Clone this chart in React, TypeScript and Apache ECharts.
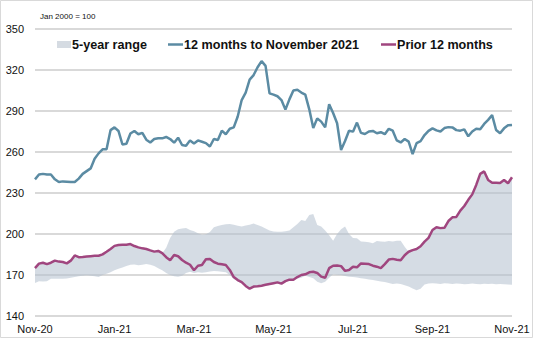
import React, { useEffect, useRef } from "react";
import * as echarts from "echarts";

const xTicks = ["Nov-20", "Jan-21", "Mar-21", "May-21", "Jul-21", "Sep-21", "Nov-21"];

const current12m = [
  240, 243.5, 244, 243.5, 243.5, 240, 238, 238.5, 238.3, 238,
  238, 240.5, 244, 246, 248, 255, 259, 262, 262, 276,
  278, 275.4, 265.5, 266, 273.5, 275.4, 273, 274, 269, 267,
  269.5, 270, 270, 271, 269.5, 266.8, 270.5, 265.1, 264.5, 268.5,
  266.3, 268.5, 267.5, 266.5, 264, 269.5, 268.8, 275.6, 273, 277,
  278, 286, 298, 303.4, 313, 316.3, 322, 326.5, 323, 302.9,
  302, 300.8, 298, 291, 298.5, 305, 305.5, 303.5, 302, 291.2,
  277.5, 284.6, 282.2, 278, 295, 288.5, 281, 261.5, 268, 275.6,
  274.9, 281.5, 274, 273.2, 275, 275.4, 273.7, 274.5, 273, 277,
  275.6, 268.5, 267, 269.5, 267.6, 258.5, 266.5, 268, 272.4, 275.5,
  277.3, 275.8, 275, 277.5, 278.2, 278, 276, 275.6, 276.6, 271.5,
  275, 277, 276.6, 280.5, 283.5, 287, 276.1, 273.7, 277.3, 279.5,
  279.8
];

const prior12m = [
  175, 178.3, 179, 178, 179, 180.5, 179.8, 179.5, 178.5, 180.5,
  184.3, 183, 183.1, 183.5, 183.8, 184, 184.1, 185.1, 187, 189,
  191.3, 192, 192.1, 192.2, 192.6, 191.2, 190.2, 189.5, 189, 188,
  187.1, 187.6, 186, 183, 180.8, 184.6, 183.7, 181, 179, 177.5,
  173.5, 176.8, 177.3, 181.5, 181.7, 179.5, 178.3, 177.8, 177.3, 173.7,
  168.5, 166.3, 164.8, 162, 160, 161.5, 161.7, 162.2, 162.8, 163.4,
  164, 164.6, 163.7, 165.5, 166.6, 166.5, 168.5, 170, 170.5, 172,
  172.4, 171.5, 168.8, 168, 175, 176.8, 177, 176.5, 173, 173.7,
  176.1, 175.6, 178.5, 178.3, 178, 176.8, 176.1, 175, 178, 181.3,
  181.8, 181.2, 180.8, 184.5, 187, 188.2, 189, 191, 194.4, 197.2,
  202.9, 205, 204.3, 204.5, 209.5, 212.2, 212.5, 217.1, 220.5, 225,
  229, 235.9, 244, 245.8, 239.5, 237.5, 237.5, 237.3, 239.5, 237.1,
  241.5
];

const rangeLow = [
  164.2, 165.5, 165.2, 165.5, 167.3, 167.3, 167.2, 167.3, 167.5, 168,
  168.5, 169, 169.5, 169.8, 169.5, 169, 168.6, 170, 171, 172,
  173.5, 174.5, 175.5, 176.5, 177.5, 177.6, 177.2, 177.5, 178, 177.5,
  176.5, 175, 173.5, 171.5, 170, 169, 168.8, 169.5, 171.5, 172.4,
  171.5, 172, 171.7, 172, 172.5, 173, 172.8, 172.4, 172, 170,
  167, 165.5, 164, 161.8, 160, 161, 161.2, 161.8, 162.3, 162.7,
  163.4, 164, 163.5, 165, 166.3, 167, 167.5, 168, 169.5, 168.5,
  167.6, 165, 163.9, 165, 168, 170.5, 170.2, 170, 169.2, 168.8,
  168.6, 168.2, 167.7, 167.2, 166.7, 166.3, 165.8, 165.3, 164.8, 164.2,
  163.5, 163.8, 163.5, 162.5, 161.5, 160.2, 158.8, 160, 163, 163.8,
  164, 163.8, 163.5, 164, 163.7, 163.5, 163.8, 163.6, 163.3, 163.5,
  163.8, 163.4, 163.2, 163.6, 163.4, 163.6, 163.3, 163.5, 163.2, 163,
  162.8
];

const rangeHigh = [
  175, 178.3, 179, 178, 179, 180.5, 179.8, 179.5, 178.5, 180.5,
  184.3, 183, 183.1, 183.5, 183.8, 184, 184.1, 185.1, 187, 189,
  191.3, 192, 192.1, 192.2, 192.6, 191.2, 190.2, 189.5, 189, 188,
  187.1, 187.6, 186, 190, 197, 201.7, 203.5, 204.1, 204.3, 203,
  202, 200.5, 199.5, 199.8, 201.5, 205, 205.8, 206.6, 207.2, 207.3,
  206.8, 206, 205.4, 206.2, 206.8, 207.6, 206.5, 205.4, 204, 202.5,
  201.8, 201.7, 201.7, 202, 202.5, 205, 207.3, 210.2, 209.5, 213.9,
  214.6, 206.6, 205.4, 202.5, 199, 195, 200, 203.5, 205.4, 200,
  197, 196.8, 194.5, 194.4, 194, 193.3, 194.8, 194.5, 194.4, 194.8,
  194.6, 195, 195.1, 190.7, 187, 188.2, 189, 191, 194.4, 197.2,
  202.9, 205, 204.3, 204.5, 209.5, 212.2, 212.5, 217.1, 220.5, 225,
  229, 235.9, 244, 245.8, 239.5, 237.5, 237.5, 237.3, 239.5, 237.1,
  241.5
];

const BLUE = "#5b8ba3";
const PINK = "#a0467f";
const BAND = "#d5dbe2";
const GRID = "#d9d9d9";
const FONT = "'Liberation Sans', Arial, sans-serif";

export default function App() {
  const ref = useRef<HTMLDivElement>(null);

  useEffect(() => {
    if (!ref.current) return;
    const chart = echarts.init(ref.current, null, { renderer: "svg" });
    const categories = current12m.map((_, i) => String(i));
    const bandDiff = rangeHigh.map((h, i) => +(h - rangeLow[i]).toFixed(2));

    chart.setOption({
      animation: false,
      backgroundColor: "#ffffff",
      grid: { left: 35, right: 21, top: 29, bottom: 22, containLabel: false },
      xAxis: {
        type: "category",
        data: categories,
        boundaryGap: false,
        axisLine: { show: false },
        axisTick: { show: false },
        splitLine: { show: false },
        axisLabel: {
          interval: 19,
          margin: 7,
          color: "#111",
          fontSize: 11,
          fontFamily: FONT,
          formatter: (_v: string, idx: number) => xTicks[Math.round(idx / 20)] ?? "",
        },
      },
      yAxis: {
        type: "value",
        min: 140,
        max: 350,
        interval: 30,
        axisLine: { show: false },
        axisTick: { show: false },
        axisLabel: { color: "#111", fontSize: 11, fontFamily: FONT, margin: 11 },
        splitLine: { lineStyle: { color: GRID, width: 2 } },
      },
      series: [
        {
          name: "range-low",
          type: "line",
          stack: "band",
          data: rangeLow,
          symbol: "none",
          lineStyle: { opacity: 0, width: 0 },
          silent: true,
        },
        {
          name: "5-year range",
          type: "line",
          stack: "band",
          data: bandDiff,
          symbol: "none",
          lineStyle: { opacity: 0, width: 0 },
          areaStyle: { color: "rgb(178,191,205)", opacity: 0.55 },
          silent: true,
        },
        {
          name: "Prior 12 months",
          type: "line",
          data: prior12m,
          symbol: "none",
          lineStyle: { color: PINK, width: 2.5 },
          itemStyle: { color: PINK },
        },
        {
          name: "12 months to November 2021",
          type: "line",
          data: current12m,
          symbol: "none",
          lineStyle: { color: BLUE, width: 2.5 },
          itemStyle: { color: BLUE },
        },
      ],
      graphic: [
        {
          type: "rect",
          shape: { x: 0.5, y: 0.5, width: 532, height: 337 },
          style: { fill: "none", stroke: GRID, lineWidth: 1 },
          silent: true,
        },
        {
          type: "text",
          x: 40,
          y: 16,
          style: { text: "Jan 2000 = 100", fontSize: 8, fontFamily: FONT, fill: "#111", verticalAlign: "middle" },
        },
        {
          type: "rect",
          shape: { x: 57, y: 41, width: 14, height: 7 },
          style: { fill: BAND },
        },
        {
          type: "text",
          x: 72,
          y: 45,
          style: { text: "5-year range", fontSize: 12.6, fontWeight: "bold", fontFamily: FONT, fill: "#111", verticalAlign: "middle" },
        },
        {
          type: "line",
          shape: { x1: 168, y1: 44.5, x2: 183, y2: 44.5 },
          style: { stroke: BLUE, lineWidth: 2.5 },
        },
        {
          type: "text",
          x: 184,
          y: 45,
          style: { text: "12 months to November 2021", fontSize: 12.6, fontWeight: "bold", fontFamily: FONT, fill: "#111", verticalAlign: "middle" },
        },
        {
          type: "line",
          shape: { x1: 381, y1: 44.5, x2: 396, y2: 44.5 },
          style: { stroke: PINK, lineWidth: 2.5 },
        },
        {
          type: "text",
          x: 397,
          y: 45,
          style: { text: "Prior 12 months", fontSize: 12.6, fontWeight: "bold", fontFamily: FONT, fill: "#111", verticalAlign: "middle" },
        },
      ],
    });

    return () => chart.dispose();
  }, []);

  return (
    <div
      ref={ref}
      style={{ position: "fixed", left: 0, top: 0, width: 533, height: 338, background: "#fff" }}
    />
  );
}
